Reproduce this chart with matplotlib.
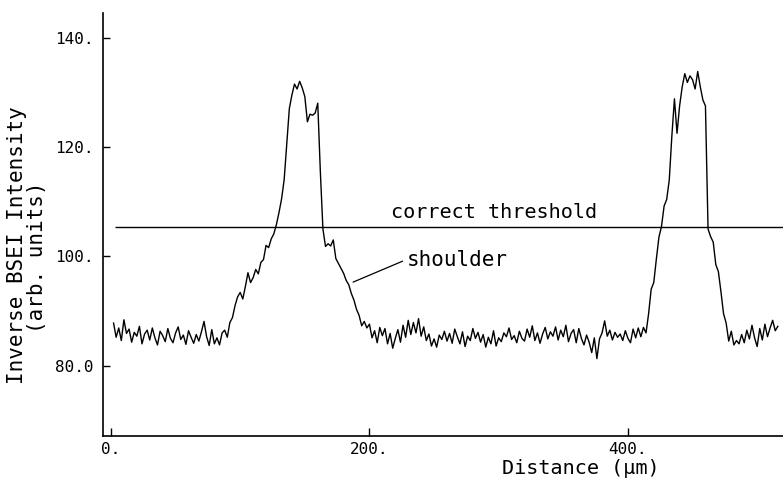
import matplotlib
matplotlib.use("Agg")
import matplotlib.pyplot as plt
import numpy as np

plt.rcParams['font.family'] = ['DejaVu Sans Mono', 'DejaVu Sans']

# profile sampled every 2 um, starting at 2 um
x_start = 2.0
x_step = 2.0

# flat region before the first inclusion (2 - 86 um)
base_left = [87.8, 85.2, 86.9, 84.6, 88.4, 85.9, 86.7, 84.3, 86.1, 85.4,
             87.2, 84.0, 85.8, 86.5, 84.7, 86.9, 85.1, 83.8, 86.3, 85.5,
             84.4, 86.8, 85.0, 84.2, 86.0, 87.1, 84.8, 85.6, 83.9, 86.4,
             85.2, 84.1, 85.7, 84.5, 86.2, 88.1, 85.3, 83.7, 86.6, 84.0,
             85.1, 83.8, 86.0]
# first peak: rise, top, fall with shoulder (88 - 196 um)
peak_one = [86.5, 85.2, 87.9, 88.8, 91.0, 92.6, 93.4, 92.2, 94.5, 97.0,
            95.2, 96.1, 97.6, 96.8, 98.9, 99.4, 102.0, 101.6, 103.2, 104.1,
            105.8,
            108.0, 110.5, 114.0, 120.5, 127.0, 129.5, 131.5, 130.6, 132.0, 130.8,
            129.2, 124.6, 126.0, 125.8, 126.2, 128.0,
            115.5, 105.0, 101.8, 102.3, 101.9, 103.0, 99.6, 98.7, 97.8, 96.9,
            95.6, 94.8, 93.2, 92.0, 90.3, 89.2, 87.3, 88.1]
# flat region between the peaks (198 - 412 um)
base_mid = [86.9, 87.6, 85.1, 86.4, 84.2, 87.0, 85.5, 86.8, 84.0, 85.9,
            83.2, 85.0, 86.6, 84.3, 87.4, 85.2, 88.3, 85.7, 87.9, 86.0,
            88.6, 85.4, 87.1, 84.6, 85.8, 83.6, 84.9, 83.4, 85.6, 84.8,
            86.3, 84.5, 85.9, 84.1, 86.7, 85.3, 84.0, 86.2, 83.5, 85.4,
            84.6, 86.8, 85.0, 86.1, 84.3, 85.7, 83.4, 85.2, 84.0, 86.4,
            83.6, 85.1, 84.4, 86.0, 85.3, 86.9, 84.8, 85.5, 84.2, 86.3,
            85.0, 84.5, 86.7, 85.2, 87.3, 84.6, 86.0, 84.1, 85.8, 87.0,
            84.9, 86.2, 85.4, 87.1, 84.7, 86.5, 85.3, 87.4, 84.4, 85.9,
            86.6, 84.2, 86.8, 85.0, 83.8, 85.6, 84.3, 82.4, 85.1, 81.3,
            84.9, 86.0, 88.2, 85.4, 86.5, 84.7, 86.1, 85.2, 85.8, 84.6,
            86.4, 85.0, 84.2, 86.7, 85.1, 86.9, 85.3, 87.0]
# second peak (414 - 476 um)
peak_two = [86.0, 89.5, 94.0, 95.2, 99.5, 103.5, 105.5, 109.2, 110.4, 114.0,
            122.0, 128.8, 122.5, 127.5, 131.0, 133.4, 131.8, 133.0, 132.3, 130.6,
            133.8, 131.0, 128.6, 127.5, 105.0, 103.6, 102.6, 98.5, 97.2, 93.5,
            89.5, 87.8]
# flat region after the second peak (478 - 516 um)
base_right = [84.5, 86.3, 83.8, 84.6, 84.0, 85.7, 84.2, 86.5, 84.9, 87.4,
              85.1, 83.5, 86.8, 84.7, 87.6, 85.3, 86.9, 88.3, 86.4, 87.2]

threshold = 105.4
yticks = [80, 100, 120, 140]
ytick_labels = ['80.0', '100.', '120.', '140.']
xticks = [0, 200, 400]
xtick_labels = ['0.', '200.', '400.']

intensity = np.array(base_left + peak_one + base_mid + peak_two + base_right)
distance = x_start + x_step * np.arange(len(intensity))

fig = plt.figure(figsize=(7.83, 4.84), dpi=100)
ax = fig.add_axes([0.1315, 0.0992, 0.8685, 0.874])

ax.plot(distance, intensity, color='black', lw=1.0)
ax.hlines(threshold, 3, 520, color='black', lw=1.0)

ax.text(217, 107.0, 'correct threshold', fontsize=14.5, va='baseline', ha='left')
ax.text(229, 98.3, 'shoulder', fontsize=15, va='baseline', ha='left')
ax.plot([187.5, 225.5], [95.3, 99.1], color='black', lw=0.9)

ax.set_xlim(-6.2, 520)
ax.set_ylim(67.15, 144.5)

ax.spines['top'].set_visible(False)
ax.spines['right'].set_visible(False)
ax.spines['left'].set_linewidth(1.2)
ax.spines['bottom'].set_linewidth(1.2)

ax.set_yticks(yticks)
ax.set_yticklabels(ytick_labels)
ax.set_xticks(xticks)
ax.set_xticklabels(xtick_labels)
ax.tick_params(axis='y', direction='in', length=5, width=1.0, pad=7, labelsize=11.5)
ax.tick_params(axis='x', direction='in', length=6, width=1.0, pad=4, labelsize=11.5)

fig.text(17 / 783, 1 - 245 / 484, 'Inverse BSEI Intensity', rotation=90,
         ha='center', va='center', fontsize=15)
fig.text(37 / 783, 1 - 257 / 484, '(arb. units)', rotation=90,
         ha='center', va='center', fontsize=15)
fig.text(581 / 783, 1 - 468 / 484, 'Distance (\u03bcm)', ha='center', va='center',
         fontsize=14.5)

fig.savefig('out.png', dpi=100)
